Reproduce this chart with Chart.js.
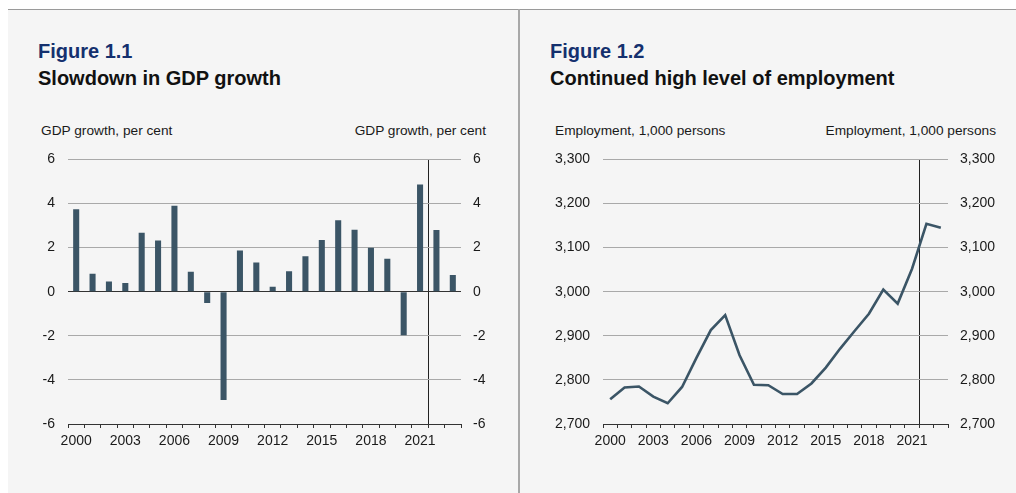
<!DOCTYPE html>
<html>
<head>
<meta charset="utf-8">
<script src="https://cdn.jsdelivr.net/npm/chart.js@4"></script>
<style>
  html, body { margin: 0; padding: 0; background: #fff; }
  body { width: 1016px; height: 493px; position: relative; overflow: hidden;
         font-family: "Liberation Sans", Arial, sans-serif; }
  .panel { position: absolute; top: 9px; height: 484px; background: #f5f5f5;
           border-top: 1px solid #9a9a9a; box-sizing: border-box; }
  .divider { position: absolute; left: 518px; top: 9px; width: 2px; height: 484px; background: #a8a8a8; }
  .fig { position: absolute; font-weight: bold; font-size: 20px; color: #14306e; }
  .title { position: absolute; font-weight: bold; font-size: 20px; color: #111; }
  .axt { position: absolute; font-size: 13.7px; color: #1a1a1a; white-space: nowrap; }
  .box { position: absolute; top: 138px; width: 480px; height: 317px; }
</style>
</head>
<body>
<div class="panel" style="left:8px; width:512px;"></div>
<div class="panel" style="left:519px; width:497px;"></div>
<div class="divider"></div>

<div class="fig" style="left:38px; top:40px;">Figure 1.1</div>
<div class="title" style="left:38px; top:67px;">Slowdown in GDP growth</div>
<div class="axt" style="left:41px; top:123px;">GDP growth, per cent</div>
<div class="axt" style="right:530px; top:123px;">GDP growth, per cent</div>

<div class="fig" style="left:550px; top:40px;">Figure 1.2</div>
<div class="title" style="left:550px; top:67px;">Continued high level of employment</div>
<div class="axt" style="left:555px; top:123px;">Employment, 1,000 persons</div>
<div class="axt" style="right:20px; top:123px;">Employment, 1,000 persons</div>

<div class="box" style="left:20px;"><canvas id="plot_gdp"></canvas></div>
<div class="box" style="left:530px;"><canvas id="plot_emp"></canvas></div>

<script>
// annual figures, 2022-2023 are projections
const years = ['2000','2001','2002','2003','2004','2005','2006','2007','2008','2009','2010','2011',
               '2012','2013','2014','2015','2016','2017','2018','2019','2020','2021','2022','2023'];
const gdpGrowth = [3.74, 0.81, 0.46, 0.39, 2.67, 2.32, 3.90, 0.90, -0.51, -4.91, 1.87, 1.32,
                   0.23, 0.93, 1.61, 2.34, 3.24, 2.81, 1.99, 1.49, -1.98, 4.86, 2.80, 0.76];
const employment = [2756, 2783, 2785, 2762, 2747, 2784, 2850, 2913, 2947, 2856, 2789, 2788,
                    2768, 2768, 2792, 2828, 2871, 2911, 2950, 3005, 2973, 3052, 3154, 3145];
const forecastFrom = '2022';

const gdpTicks = { min: -6, max: 6, step: 2 };
const empTicks = { min: 2700, max: 3300, step: 100 };

const inkColor = '#3b5566';
const fontSpec = { family: '"Liberation Sans", Arial, sans-serif', size: 14 };

Chart.defaults.animation = false;
Chart.defaults.color = '#1a1a1a';
Chart.defaults.font = fontSpec;

const forecastIdx = years.indexOf(forecastFrom);

function fixedWidth(w) { return scale => { scale.width = w; }; }

function xAxis() {
    return {
        type: 'category',
        offset: true,
        afterFit: scale => { scale.height = 31; },
        border: { display: true, color: '#333', width: 1 },
        grid: {
            offset: true,
            drawOnChartArea: true,
            drawTicks: true,
            tickLength: 4,
            tickColor: '#333',
            color: ctx => ctx.index === forecastIdx ? '#222' : 'rgba(0,0,0,0)'
        },
        ticks: {
            autoSkip: false,
            maxRotation: 0,
            padding: 5,
            callback: function (val, i) { return i % 3 === 0 ? this.getLabelForValue(val) : ''; }
        }
    };
}

function yAxes(t, leftW, rightW, zeroLine) {
    const base = {
        min: t.min, max: t.max,
        border: { display: false },
        ticks: { stepSize: t.step, padding: 12, format: { locale: 'en-US' } }
    };
    return {
        y: Object.assign({}, base, {
            position: 'left',
            afterFit: fixedWidth(leftW),
            grid: {
                drawTicks: false,
                color: ctx => (zeroLine && ctx.tick.value === 0) ? '#333' : '#a9a9a9'
            },
            ticks: Object.assign({}, base.ticks, { padding: 13 })
        }),
        y2: Object.assign({}, base, {
            position: 'right',
            afterFit: fixedWidth(rightW),
            grid: { display: false, drawTicks: false }
        })
    };
}

const dados_gdp = {
    type: 'bar',
    data: {
        labels: years,
        datasets: [{
            label: 'GDP growth',
            data: gdpGrowth,
            backgroundColor: inkColor,
            barPercentage: 0.37,
            categoryPercentage: 1.0
        }]
    },
    options: {
        responsive: true,
        maintainAspectRatio: false,
        layout: { padding: { top: 7, left: 0, right: 0, bottom: 0 } },
        plugins: { legend: { display: false }, tooltip: { enabled: false } },
        scales: Object.assign({ x: xAxis() }, yAxes(gdpTicks, 48, 39, true))
    }
};

const dados_emp = {
    type: 'line',
    data: {
        labels: years,
        datasets: [{
            label: 'Employment',
            data: employment,
            borderColor: inkColor,
            borderWidth: 2.6,
            pointRadius: 0,
            tension: 0,
            fill: false
        }]
    },
    options: {
        responsive: true,
        maintainAspectRatio: false,
        layout: { padding: { top: 7, left: 0, right: 0, bottom: 0 } },
        plugins: { legend: { display: false }, tooltip: { enabled: false } },
        scales: Object.assign({ x: xAxis() }, yAxes(empTicks, 73, 62, false))
    }
};

const grafico_gdp = new Chart(document.getElementById('plot_gdp'), dados_gdp);
const grafico_emp = new Chart(document.getElementById('plot_emp'), dados_emp);
</script>
</body>
</html>
